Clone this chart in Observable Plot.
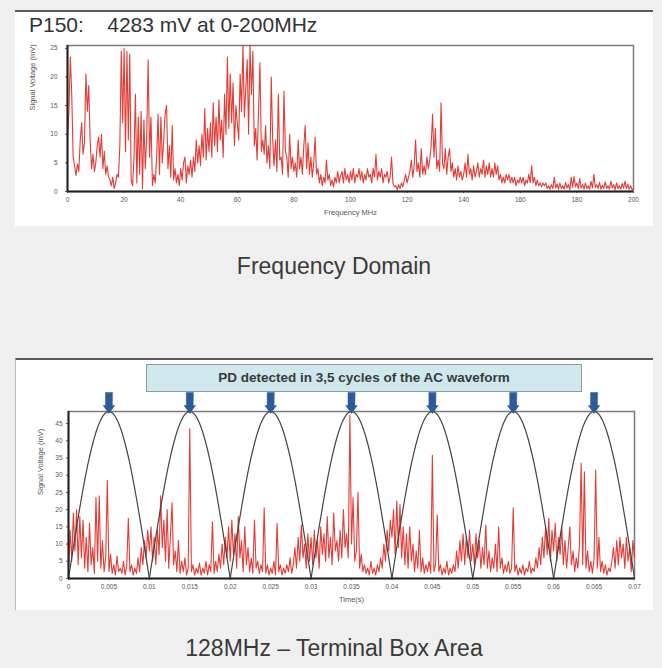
<!DOCTYPE html>
<html>
<head>
<meta charset="utf-8">
<script src="https://cdn.jsdelivr.net/npm/d3@7"></script>
<script src="https://cdn.jsdelivr.net/npm/@observablehq/plot@0.6"></script>
<style>
  body { margin:0; background:#efefef; width:662px; height:668px; position:relative; overflow:hidden;
         font-family:"Liberation Sans", Arial, Helvetica, sans-serif; }
  .card { position:absolute; left:15px; width:638px; background:#fff; border-top:2px solid #5a5a5a; }
  #c1 { top:10px; height:214px; }
  #c2 { top:358px; height:250px; border-left:1px solid #bdbdbd; width:637px; }
  .title { position:absolute; left:14px; top:2px; font-size:21px; line-height:21px; color:#333; white-space:pre; }
  .banner { position:absolute; left:130px; top:4px; width:434px; height:26px; background:#cfe8ee;
            border:1px solid #8d9b9e; text-align:center; font-weight:bold; font-size:13.5px; line-height:26px; color:#3a3a3a; }
  .svgwrap { position:absolute; left:0; }
  .caption { position:absolute; left:15px; width:638px; text-align:center; font-size:23px; line-height:23px; color:#3a3a3a; }
</style>
</head>
<body>
<div class="card" id="c1">
  <div class="title">P150:    4283 mV at 0-200MHz</div>
  <div class="svgwrap" id="p1" style="top:28px"></div>
</div>
<div class="caption" style="top:255px">Frequency Domain</div>
<div class="card" id="c2">
  <div class="banner">PD detected in 3,5 cycles of the AC waveform</div>
  <div class="svgwrap" id="p2" style="top:32px;left:-1px"></div>
</div>
<div class="caption" style="top:637px">128MHz – Terminal Box Area</div>
<script>
// ---------- Frequency domain (0-200 MHz, 0.5 MHz sampling) ----------
const freqStepMHz = 0.5;
const spectrumMV = [
  9, 14, 23.5, 17, 6, 4.5, 2.8, 4.8, 3.5, 9, 12, 6.5, 8.5, 20.5, 14, 18.5, 9, 4, 6.5, 3.5,
  5, 8, 9.5, 6, 10, 4, 7, 3, 4.5, 2.5, 2, 1, 2.5, 0.5, 1.5, 3, 2.5, 8, 24.5, 12,
  25, 7, 24.5, 9, 24, 2, 1, 6, 17, 1.5, 13, 3, 14, 0.5, 12.5, 4, 10, 23, 6, 13,
  1, 3, 1.5, 6, 13.5, 3, 13, 5, 9, 13.5, 15, 4, 8, 2.5, 11.5, 2, 4, 1.5, 3, 1,
  4, 2, 5, 6, 1.5, 4.5, 3, 5.5, 2.5, 6, 3.5, 9, 5, 8, 4.5, 10, 6, 14.5, 5.5, 11,
  7, 12, 6, 15.5, 8, 13, 7, 16, 9, 12.5, 6, 17, 10, 23.5, 11, 20.5, 12, 19, 8, 15,
  12, 9, 20.5, 14, 25.5, 13, 18, 23, 10, 25.5, 17, 24.5, 8, 11, 5.5, 14, 22.5, 7, 9, 6.5,
  11.5, 5, 8, 4, 20, 9, 4.5, 9, 3.5, 17, 5.5, 6, 3, 17.5, 7, 6, 2.5, 10, 4, 6,
  3.5, 5, 2.5, 9, 4, 6, 3, 8, 11.5, 4, 8.5, 3, 6, 2.5, 5, 9.5, 3, 4, 1.5, 3,
  1, 2.5, 1.5, 5.5, 2, 3, 1, 2, 0.8, 2.5, 1.5, 3.5, 1.5, 2.8, 3.5, 1.5, 4, 2, 3, 1.5,
  3.5, 2, 4, 1.5, 3, 2.5, 4, 2, 3.5, 1.5, 3, 2, 4, 2.5, 3, 1.5, 4, 2.5, 6.5, 2,
  3.5, 2.5, 4, 1.5, 3, 2.5, 3.5, 1.5, 2.5, 6, 1.5, 0.8, 1, 0.3, 1.2, 0.5, 1.5, 0.8, 2, 3,
  1.5, 2.5, 3.5, 5.5, 2.5, 4.5, 9, 3.5, 5, 2.5, 7.5, 3, 4.5, 3, 6, 4, 5.5, 8, 13.5, 6,
  11, 4, 5.5, 3.5, 15.5, 5, 4, 7.5, 3, 6, 7.5, 3.5, 5, 2.5, 4, 2, 4.5, 2.5, 3.5, 2,
  3, 5, 2.5, 6.5, 3, 4, 2, 4.5, 2.5, 3.5, 5, 2.5, 4, 3, 5.5, 2.5, 4.5, 3, 5, 2.5,
  4, 2.5, 5, 3, 4.5, 2, 3, 1.5, 2.5, 1.5, 3, 2, 3, 1.5, 2.5, 1.5, 2.5, 1, 2, 1.5,
  2.5, 1.5, 2.5, 1, 2, 1.5, 3, 1.5, 4.5, 1.5, 2.5, 1, 2, 1, 1.5, 0.8, 1.5, 1, 1.5, 0.5,
  1, 0.4, 1.2, 0.5, 2.5, 0.6, 1.3, 0.4, 1.5, 0.5, 1, 0.4, 1.6, 0.6, 1.2, 0.3, 2.5, 0.7, 2.6, 0.8,
  1.5, 0.5, 2.3, 0.6, 1.2, 0.4, 1.5, 0.5, 1, 0.4, 1.8, 0.6, 3, 0.7, 1.2, 0.5, 1.6, 0.4, 1.1, 0.5,
  1.7, 0.5, 1, 0.4, 1.8, 0.6, 1.2, 0.3, 1.5, 0.5, 1, 0.4, 1.4, 0.6, 1.8, 0.5, 1.3, 0.4, 1, 0.3,
  0.5
];
const freqTicks = [0, 20, 40, 60, 80, 100, 120, 140, 160, 180, 200];
const voltTicksTop = [0, 5, 10, 15, 20, 25];

// ---------- 128 MHz time domain (0-0.07 s, 0.2 ms sampling) ----------
const timeStepS = 0.0002;
const pdSignalMV = [
  3, 14, 5, 19, 8, 20, 4, 18, 6, 17, 3, 12, 2, 16, 4, 9, 1.5, 23.5, 5, 24, 3, 11, 2, 6, 28.5,
  2, 7, 1.5, 4, 1, 6.5, 2, 3, 1.5, 5, 1, 3.5, 17.5, 2, 4, 1, 3, 1.5, 6, 2, 9, 4, 11, 6, 14,
  8, 15, 5, 12, 4, 14, 7, 24, 9, 17, 5, 20, 3, 12, 22, 4, 8, 2, 11, 1.5, 5, 2, 6, 1, 3,
  43.5, 2, 4, 1, 3, 1.5, 4.5, 1, 3, 1.5, 5, 1, 4, 2, 16.5, 1.5, 5, 2, 7, 3, 10, 4, 12, 6, 15,
  5, 17, 7, 13, 3, 18, 6, 11, 2, 15, 4, 9, 2, 6, 1.5, 17, 3, 5, 1.5, 4, 2, 20.5, 1.5, 4, 1,
  3, 1.5, 5, 1, 16, 2, 4, 1, 3, 1.5, 4, 2, 6, 1.5, 4, 9, 3, 12, 5, 15.5, 6, 10, 3, 13, 5,
  12, 4, 14, 6, 11, 3, 15, 7, 13, 5, 18, 6, 12, 4, 19, 8, 11, 5, 14, 6, 20, 9, 13, 6, 47.5,
  10, 23.5, 5, 8, 25, 3, 7, 2, 4, 1.5, 3, 1, 5, 1.5, 3, 1, 4, 2, 6, 3, 10, 5, 14, 8, 17,
  12, 20, 7, 22.5, 9, 21.5, 6, 15, 4, 13, 3, 15, 5, 10, 2, 8, 3, 14, 2, 6, 1.5, 4, 2, 5, 1.5,
  35.8, 2, 4, 18.5, 2, 4, 1, 3, 1.5, 5, 1, 3, 1.5, 4, 2, 8, 3, 11, 5, 13, 4, 12, 6, 14, 5,
  10, 4, 13, 6, 11, 3, 9, 4, 15.5, 3, 8, 2, 6, 3, 10, 2, 15, 3, 6, 1.5, 4, 2, 5, 1.5, 3,
  20.5, 2, 4, 1, 3, 1.5, 4, 1, 3, 2, 5, 1.5, 3, 2, 6, 3, 9, 4, 12, 6, 15, 7, 17.5, 5, 14,
  8, 16, 5, 12, 7, 15, 4, 11, 3, 9, 15, 4, 8, 2, 6, 3, 10, 33.5, 4, 31, 3, 8, 2, 5, 1.5,
  6, 31.5, 3, 12, 2, 5, 1.5, 4, 1, 3, 2, 5, 9, 3, 11, 4, 12, 6, 10, 3, 12, 5, 9, 2, 11,
  6
];
// AC waveform reference (rectified half cycles), peaks and sampled hump profile
const humpPeakS = [0.005, 0.015, 0.025, 0.035, 0.045, 0.055, 0.065];
const humpOffsetS = [-0.005, -0.0045, -0.004, -0.0035, -0.003, -0.0025, -0.002, -0.0015, -0.001, -0.0005, 0,
                     0.0005, 0.001, 0.0015, 0.002, 0.0025, 0.003, 0.0035, 0.004, 0.0045, 0.005];
const humpProfileMV = [0, 7.6, 15, 22, 28.5, 34.3, 39.2, 43.2, 46.1, 47.9, 48.5,
                       47.9, 46.1, 43.2, 39.2, 34.3, 28.5, 22, 15, 7.6, 0];
const timeTicks = [0, 0.005, 0.01, 0.015, 0.02, 0.025, 0.03, 0.035, 0.04, 0.045, 0.05, 0.055, 0.06, 0.065, 0.07];
const voltTicksBottom = [0, 5, 10, 15, 20, 25, 30, 35, 40, 45];

// ---------- build tables ----------
const spectrum = spectrumMV.map((v, i) => ({f: i * freqStepMHz, v}));
const pd = pdSignalMV.map((v, i) => ({t: i * timeStepS, v}));
const arcs = humpPeakS.flatMap((p, k) => humpOffsetS.map((o, j) => ({t: p + o, v: humpProfileMV[j], k})));

const RED = "#e2261f";
const baseStyle = {fontSize: "6.5px", fontFamily: "Liberation Sans, Arial, sans-serif", color: "#555", background: "transparent", overflow: "visible"};

const p1 = Plot.plot({
  width: 638, height: 181,
  marginLeft: 52, marginRight: 20, marginTop: 5, marginBottom: 30,
  style: baseStyle,
  x: {domain: [0, 200], ticks: freqTicks, tickSize: 2, tickPadding: 4, label: null},
  y: {domain: [0, 25.5], ticks: voltTicksTop, tickSize: 2, tickPadding: 8, label: null},
  marks: [
    Plot.frame({stroke: "#7a7a7a", strokeWidth: 1.5}),
    Plot.line(spectrum, {x: "f", y: "v", stroke: RED, strokeWidth: 1.1, strokeOpacity: 0.9}),
    Plot.ruleX([0], {stroke: "#222", strokeWidth: 2}),
    Plot.ruleY([0], {stroke: "#222", strokeWidth: 2}),
    Plot.text(["Frequency MHz"], {frameAnchor: "bottom", dy: 23, fontSize: 7.5, fill: "#555"}),
    Plot.text(["Signal Voltage (mV)"], {frameAnchor: "left", rotate: -90, dx: -35, dy: -8, fontSize: 7.5, fill: "#555"})
  ]
});
document.getElementById("p1").append(p1);

const blockArrow = {
  draw(context, l) {
    const w = 3.5, H = 5.8, h = 8;
    context.moveTo(-w, 0);
    context.lineTo(w, 0);
    context.lineTo(w, -l + h);
    context.lineTo(H, -l + h);
    context.lineTo(0, -l);
    context.lineTo(-H, -l + h);
    context.lineTo(-w, -l + h);
    context.closePath();
  }
};

const p2 = Plot.plot({
  width: 638, height: 216,
  marginLeft: 53, marginRight: 19, marginTop: 19, marginBottom: 30,
  style: baseStyle,
  x: {domain: [0, 0.07], ticks: timeTicks, tickFormat: d => String(d), tickSize: 2, tickPadding: 4, label: null},
  y: {domain: [0, 48.5], ticks: voltTicksBottom, tickSize: 2, tickPadding: 4, label: null},
  marks: [
    Plot.frame({stroke: "#7a7a7a", strokeWidth: 1.5}),
    Plot.line(pd, {x: "t", y: "v", stroke: RED, strokeWidth: 1.1, strokeOpacity: 0.9}),
    Plot.line(arcs, {x: "t", y: "v", z: "k", stroke: "#444", strokeWidth: 1.2, curve: "catmull-rom"}),
    Plot.ruleX([0], {stroke: "#222", strokeWidth: 2}),
    Plot.ruleY([0], {stroke: "#222", strokeWidth: 2}),
    Plot.vector(humpPeakS, {x: d => d, frameAnchor: "top", anchor: "end", rotate: 180, length: 21, dy: 2,
      shape: blockArrow, fill: "#2d5a98", stroke: "#2d5a98", strokeWidth: 0.5}),
    Plot.text(["Time(s)"], {frameAnchor: "bottom", dy: 23, fontSize: 7.5, fill: "#555"}),
    Plot.text(["Signal Voltage (mV)"], {frameAnchor: "left", rotate: -90, dx: -28, dy: 0, fontSize: 7.5, fill: "#555"})
  ]
});
document.getElementById("p2").append(p2);
</script>
</body>
</html>
